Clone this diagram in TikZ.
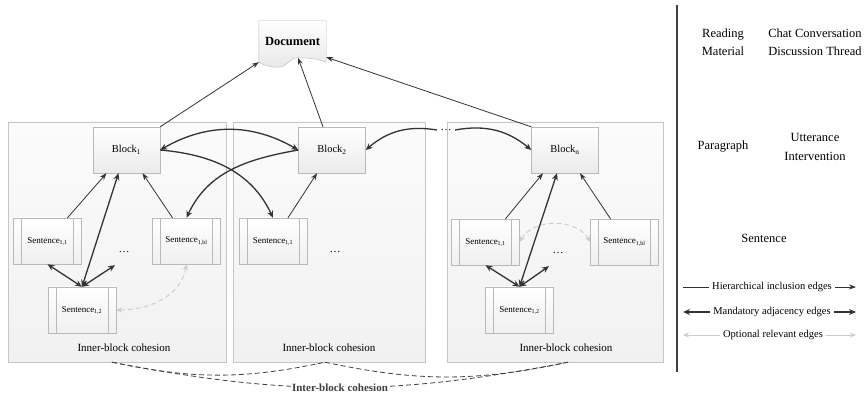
\documentclass[tikz,border=0pt]{standalone}
\usepackage{fontspec}
\setmainfont{Liberation Serif}
\usetikzlibrary{arrows.meta,positioning,backgrounds}

\tikzset{
    panel/.style={draw=gray!45, top color=gray!3, bottom color=gray!11, minimum width=#1, minimum height=240pt, inner sep=0pt},
    blockbox/.style={draw=gray!55, top color=white, bottom color=gray!16, minimum width=67pt, minimum height=46pt, font=\fontsize{10.5}{12}\selectfont},
    sentbox/.style={draw=gray!55, top color=white, bottom color=gray!12, minimum width=68pt, minimum height=46pt, font=\fontsize{9}{10}\selectfont,
        path picture={
            \draw[gray!55] ([xshift=8pt]path picture bounding box.north west) -- ([xshift=8pt]path picture bounding box.south west);
            \draw[gray!55] ([xshift=-8pt]path picture bounding box.north east) -- ([xshift=-8pt]path picture bounding box.south east);}},
    hier/.style={-{Stealth[length=7pt,width=5pt]}, line width=0.8pt, black!80},
    mand/.style={{Stealth[length=7pt,width=6pt]}-{Stealth[length=7pt,width=6pt]}, line width=1.3pt, black!80},
    mandone/.style={mand, -{Stealth[length=7pt,width=6pt]}},
    optone/.style={-{Stealth[length=6pt,width=5pt]}, line width=0.9pt, gray!40},
    opt/.style={optone, {Stealth[length=6pt,width=5pt]}-{Stealth[length=6pt,width=5pt]}, dash pattern=on 5pt off 3pt},
    inter/.style={black!75, line width=0.8pt, dash pattern=on 5pt off 3pt},
    side/.style={align=center, font=\fontsize{12.5}{18.5}\selectfont},
    legend/.style={font=\fontsize{10.5}{12}\selectfont}
}

\begin{document}
\begin{tikzpicture}[x=1pt,y=1pt]
    \useasboundingbox (0,0) rectangle (867,396);

    % the three block panels
    \node[panel=218pt] (p1) at (117,154) {};
    \node[panel=192pt] (p2) at (329,154) {};
    \node[panel=216pt] (p3) at (555,154) {};
    \node[font=\fontsize{11}{13}\selectfont] (lab1) at (124,48) {Inner-block cohesion};
    \node[font=\fontsize{11}{13}\selectfont] (lab2) at (329,48) {Inner-block cohesion};
    \node[font=\fontsize{11}{13}\selectfont] (lab3) at (566,48) {Inner-block cohesion};

    % document (wavy bottom)
    \node[minimum width=67pt, minimum height=41pt, font=\fontsize{12.5}{14}\selectfont] (doc) at (292.5,354.5) {\textbf{Document}};
    \coordinate (docdip) at ([xshift=-14pt,yshift=-5pt]doc.south);
    \coordinate (dochump) at ([xshift=5.5pt,yshift=4.5pt]doc.south);
    \begin{scope}[on background layer]
        \draw[gray!55, top color=white, bottom color=gray!18]
            (doc.south west) .. controls +(8,-4) and +(-9,0) .. (docdip)
            .. controls +(9,0) and +(-9,0) .. (dochump)
            .. controls +(9,0) and +(-6,3) .. (doc.south east)
            -- (doc.north east) -- (doc.north west) -- cycle;
    \end{scope}

    % blocks
    \node[blockbox] (b1) at (126.5,246) {Block\textsubscript{1}};
    \node[blockbox] (b2) at (332,246) {Block\textsubscript{2}};
    \node[blockbox] (bn) at (565,246) {Block\textsubscript{n}};
    \node[font=\fontsize{11}{13}\selectfont] (dd) at (446,266) {\dots};

    % sentences
    \node[sentbox] (s11) at (47.5,155) {Sentence\textsubscript{1,1}};
    \node[sentbox] (s1bl) at (186.5,155) {Sentence\textsubscript{1,bl}};
    \node[sentbox] (s12) at (82,86) {Sentence\textsubscript{1,2}};
    \node[font=\fontsize{11}{13}\selectfont] (d1) at (124,144) {\dots};
    \node[sentbox] (s21) at (273,155) {Sentence\textsubscript{1,1}};
    \node[font=\fontsize{11}{13}\selectfont] (d2) at (335,144) {\dots};
    \node[sentbox] (sn1) at (485.5,154) {Sentence\textsubscript{1,1}};
    \node[sentbox] (snbl) at (624.5,154) {Sentence\textsubscript{1,bl}};
    \node[sentbox] (sn2) at (519.5,86) {Sentence\textsubscript{1,2}};
    \node[font=\fontsize{11}{13}\selectfont] (d3) at (558,143) {\dots};

    % hierarchical inclusion edges
    \draw[hier] ([xshift=20pt]s11.north) -- ([xshift=-20pt]b1.south);
    \draw[hier] ([xshift=-14pt]s1bl.north) -- ([xshift=16pt]b1.south);
    \draw[hier] ([xshift=15pt]s21.north) -- ([xshift=-15pt]b2.south);
    \draw[hier] ([xshift=20pt]sn1.north) -- ([xshift=-22pt]bn.south);
    \draw[hier] ([xshift=-14pt]snbl.north) -- ([xshift=15pt]bn.south);
    \draw[hier] (b1.north east) -- (doc.south west);
    \draw[hier] ([xshift=-9pt]b2.north) -- (dochump);
    \draw[hier] (bn.north west) -- ([yshift=5pt]doc.south east);

    % mandatory adjacency edges
    \draw[mand] (s12.north) -- ([xshift=-8pt]b1.south);
    \draw[mand] (s12.north) -- (s11.south);
    \draw[mand] (s12.north) -- ([yshift=-9pt]d1.south west);
    \draw[mand] (sn2.north) -- ([xshift=-8pt]bn.south);
    \draw[mand] (sn2.north) -- (sn1.south);
    \draw[mand] (sn2.north) -- ([yshift=-9pt]d3.south west);
    \draw[mand] (b1.east) to[bend left=30] (b2.west);
    \draw[mandone] (b1.east) to[out=-5,in=115] (s21.north);
    \draw[mandone] (b2.west) to[out=190,in=65] (s1bl.north);
    \draw[mandone] (dd.west) to[bend right=25] (b2.east);
    \draw[mandone] (dd.east) to[bend left=25] (bn.west);

    % optional relevant edges
    \draw[opt] (s12.east) to[out=0,in=-100] (s1bl.south);
    \draw[opt] (sn1.east) to[out=60,in=120] (snbl.west);

    % inter-block cohesion
    \coordinate (c1) at ([xshift=-5pt]p1.south);
    \coordinate (c2) at ([xshift=-4pt]p2.south);
    \coordinate (c3) at ([xshift=13pt]p3.south);
    \draw[inter] (c1) to[bend right=12] (c2);
    \draw[inter] (c2) to[bend right=12] (c3);
    \draw[inter] (c1) to[bend right=11] node[midway, fill=white, inner sep=1pt, font=\fontsize{11}{13}\selectfont\bfseries] (ib) {Inter-block cohesion} (c3);

    % right column
    \coordinate (sepT) at (677,391);
    \coordinate (sepB) at (677,24);
    \draw[line width=2pt, black!75] (sepT) -- (sepB);
    \node[side] (read) at (723,354) {Reading\\Material};
    \node[side] (chat) at (815,354) {Chat Conversation\\Discussion Thread};
    \node[side] (para) at (723,249) {Paragraph};
    \node[side] (utt) at (815,249) {Utterance\\Intervention};
    \node[side] (sent) at (764,158) {Sentence};

    % legend
    \node[legend] (hie) at (772,109) {Hierarchical inclusion edges};
    \node[legend] (man) at (772,84) {Mandatory adjacency edges};
    \node[legend] (opl) at (773,61) {Optional relevant edges};
    \coordinate (hieA) at (683,109);
    \coordinate (hieB) at (856,109);
    \coordinate (manA) at (683,84);
    \coordinate (manB) at (856,84);
    \coordinate (oplA) at (683,61);
    \coordinate (oplB) at (856,61);
    \draw[black!80, line width=0.8pt] (hie.west) -- (hieA);
    \draw[hier] (hie.east) -- (hieB);
    \draw[mandone] (man.west) -- (manA);
    \draw[mandone] (man.east) -- (manB);
    \draw[optone] (opl.west) -- (oplA);
    \draw[optone] (opl.east) -- (oplB);
\end{tikzpicture}
\end{document}
